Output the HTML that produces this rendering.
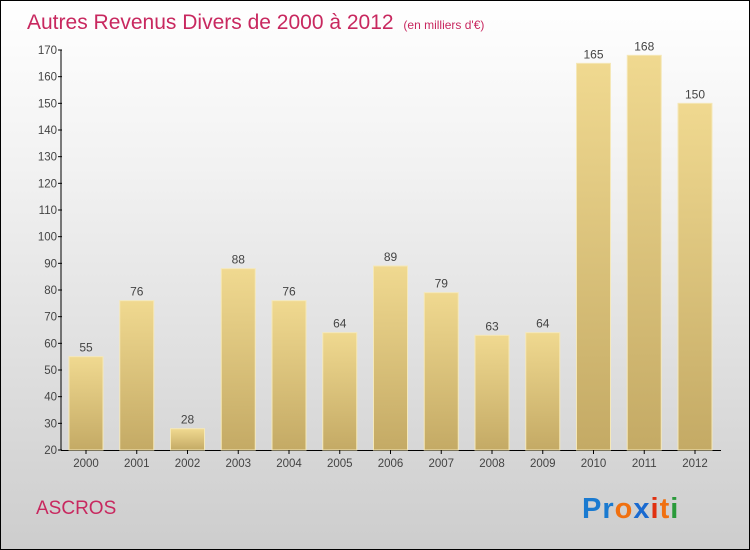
<!DOCTYPE html>
<html><head><meta charset="utf-8"><style>
body{margin:0}
#c{width:750px;height:550px;position:relative;box-sizing:border-box;border:1px solid #000;background:linear-gradient(#fff,#f2f2f2 30%,#cdcdcd);font-family:"Liberation Sans",sans-serif;overflow:hidden}
</style></head><body>
<div id="c">
<svg id="s" width="750" height="550" style="position:absolute;left:-1px;top:-1px">
<defs><linearGradient id="g" x1="0" y1="0" x2="0" y2="1"><stop offset="0" stop-color="#f0d990"/><stop offset="1" stop-color="#c4aa65"/></linearGradient></defs>
<text x="27" y="29" font-size="21" fill="#c8285f">Autres Revenus Divers de 2000 à 2012 <tspan font-size="12" dx="4">(en milliers d'€)</tspan></text>
<text x="36" y="514" font-size="19" fill="#c8285f">ASCROS</text>
<text x="582" y="518" font-size="29" font-weight="bold" letter-spacing="1"><tspan fill="#1a7ad0">Pr</tspan><tspan fill="#f07010">o</tspan><tspan fill="#1a6ad0">x</tspan><tspan fill="#e03010">i</tspan><tspan fill="#f07010">t</tspan><tspan fill="#2a9a3a">i</tspan></text>
</svg>
</div>
<script>
const years=["2000","2001","2002","2003","2004","2005","2006","2007","2008","2009","2010","2011","2012"];
const values=[55,76,28,88,76,64,89,79,63,64,165,168,150];
const ticks=[20,30,40,50,60,70,80,90,100,110,120,130,140,150,160,170];
const s=document.getElementById('s');
const NS='http://www.w3.org/2000/svg';
const y=v=>450-(v-20)*(400/150);
const x=i=>86+i*50.75;
function mk(t,a){const e=document.createElementNS(NS,t);for(const k in a)e.setAttribute(k,a[k]);s.appendChild(e);return e;}
let ax=mk('line',{x1:61,y1:y(170),x2:61,y2:450,stroke:'#000'});


let bx=mk('line',{x1:61,y1:450.5,x2:721,y2:450.5,stroke:'#000'});


ticks.forEach(t=>{
 const l=mk('line',{x1:58,x2:62,y1:y(t),y2:y(t),stroke:'#000'});
 
 
 const tx=mk('text',{x:57,y:y(t)+4,'font-size':11.5,'text-anchor':'end',fill:'#444'});
 tx.textContent=t;
 
 
});
years.forEach((yr,i)=>{
 const r=mk('rect',{x:x(i)-17,y:y(values[i]),width:34,height:450-y(values[i]),fill:'url(#g)',stroke:'#f5e8b8','stroke-width':1});
 
 
 const v=mk('text',{x:x(i),y:y(values[i])-5,'font-size':12,'text-anchor':'middle',fill:'#444'});
 v.textContent=values[i];
 
 
 const t=mk('line',{x1:x(i),x2:x(i),y1:450,y2:454,stroke:'#000'});
 
 
 const xl=mk('text',{x:x(i),y:467,'font-size':11.5,'text-anchor':'middle',fill:'#444'});
 xl.textContent=yr;
 
 
});
</script>
</body></html>
